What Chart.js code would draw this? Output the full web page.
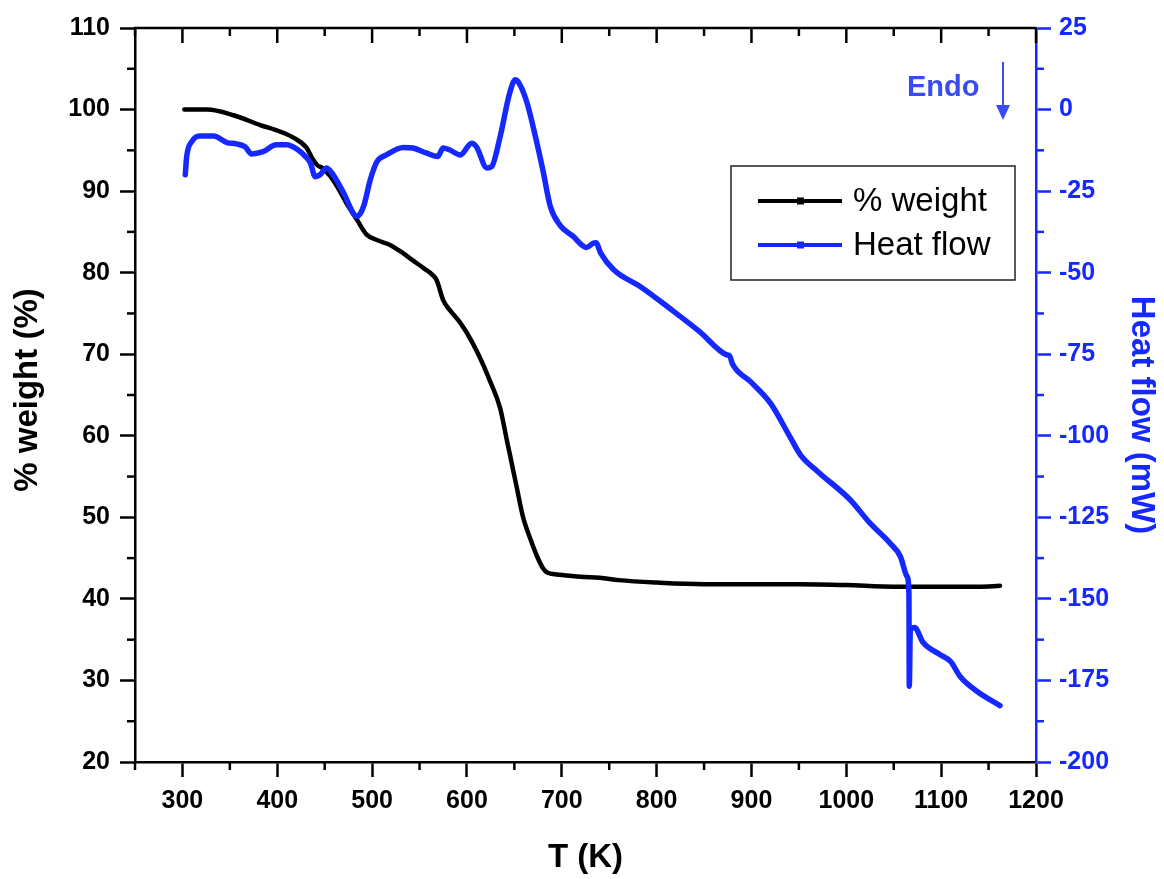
<!DOCTYPE html>
<html><head><meta charset="utf-8">
<script src="https://cdn.jsdelivr.net/npm/chart.js@4/dist/chart.umd.min.js"></script>
<style>html,body{margin:0;padding:0;background:#fff;}#wrap{width:1164px;height:879px;}</style>
</head><body><div id="wrap"><canvas id="c" width="1164" height="879"></canvas></div>
<script>
// ---- data ----
const weightT = [302,326,354,382,403,418,431,437,442,448,456,465,473,484,494,505,519,530,543,555,563,568,575,582,592,600,612,624,635,642,646,653,659,667,674,680,685,695,720,740,760,800,850,900,950,1000,1050,1100,1140,1162];
const weightPct = [100.0,100.0,99.3,98.1,97.3,96.5,95.3,94.0,93.2,92.8,91.8,90.2,88.5,86.5,84.7,84.0,83.4,82.6,81.5,80.5,79.8,79.1,76.6,75.4,74.0,72.6,70.0,66.8,63.4,59.5,57.3,53.4,50.1,47.3,45.2,43.8,43.2,43.0,42.7,42.6,42.3,42.0,41.8,41.8,41.8,41.7,41.5,41.5,41.5,41.6];
const heatT = [303,304.5,310,318,333,347,357,366,373,385,399,410,422,430,435,440,445,452,459,470,480,484,491,498,505,515,533,543,557,569,575,582,593,605,610,621,626,635,645,651,654,663,673,680,688,698,712,726,733,736,741,755,783,814,845,874,877,880,899,920,940,952,970,1004,1025,1046,1057,1064,1066,1066.4,1067.5,1072,1081,1099,1110,1120,1138,1162];
const heatMW = [-20,-14.4,-9.8,-8.1,-8.1,-10.1,-10.5,-11.4,-13.6,-12.9,-10.8,-10.8,-12.4,-14.5,-16.4,-20.6,-20,-17.9,-20,-25.6,-31.7,-32.8,-29.7,-21.6,-16,-13.9,-11.6,-11.8,-13.3,-14.4,-11.8,-12.4,-13.9,-10.3,-11.4,-17.9,-17.5,-8.3,5.0,9.1,8.5,2.4,-9.3,-18.5,-29.8,-35.4,-38.9,-42.3,-41.0,-40.8,-44.0,-49.2,-54.3,-61,-68,-75.2,-75.5,-78,-83.4,-90,-100,-106,-111,-119.6,-126.8,-132.9,-137,-143.1,-148.1,-176.8,-159.4,-158.8,-163.4,-167.1,-169.2,-173.8,-178.4,-182.7];
const xTickLabels = [300,400,500,600,700,800,900,1000,1100,1200];
const xMinorTicks = [250,350,450,550,650,750,850,950,1050,1150];
const yTickLabels = [20,30,40,50,60,70,80,90,100,110];
const yMinorTicks = [25,35,45,55,65,75,85,95,105];
const y2TickLabels = [-200,-175,-150,-125,-100,-75,-50,-25,0,25];
const y2MinorTicks = [-187.5,-162.5,-137.5,-112.5,-87.5,-62.5,-37.5,-12.5,12.5];
const seriesNames = ['% weight','Heat flow'];
const axisTitles = {x:'T (K)', y:'% weight (%)', y2:'Heat flow (mW)'};
const noteText = 'Endo';

const BLUE = '#1428ff';
const FONT = '"Liberation Sans", Arial, Helvetica, sans-serif';
Chart.defaults.font.family = FONT;

const deco = {
  id: 'deco',
  afterDraw(chart) {
    const {ctx, chartArea: a, scales: {x, y, y2}} = chart;
    const seg = (x1, y1, x2, y2_) => { ctx.beginPath(); ctx.moveTo(x1, y1); ctx.lineTo(x2, y2_); ctx.stroke(); };
    ctx.save();
    ctx.lineCap = 'butt';
    ctx.strokeStyle = '#000';
    ctx.lineWidth = 2.5;
    seg(a.left - 1, a.top, a.right, a.top);
    xTickLabels.forEach(v => { const p = x.getPixelForValue(v); seg(p, a.top, p, a.top + 15); });
    xMinorTicks.forEach(v => { const p = x.getPixelForValue(v); seg(p, a.top, p, a.top + 8); seg(p, a.bottom, p, a.bottom + 8); });
    yMinorTicks.forEach(v => { const p = y.getPixelForValue(v); seg(a.left - 8, p, a.left, p); });
    ctx.strokeStyle = BLUE;
    y2MinorTicks.forEach(v => { const p = y2.getPixelForValue(v); seg(a.right, p, a.right + 8, p); });

    // axis titles
    ctx.textAlign = 'center'; ctx.textBaseline = 'middle';
    ctx.font = 'bold 33px ' + FONT;
    ctx.fillStyle = '#000';
    ctx.fillText(axisTitles.x, (a.left + a.right) / 2, 858);
    ctx.save(); ctx.translate(28, 390); ctx.rotate(-Math.PI / 2); ctx.fillText(axisTitles.y, 0, 0); ctx.restore();
    ctx.fillStyle = BLUE;
    ctx.save(); ctx.translate(1141, 415); ctx.rotate(Math.PI / 2); ctx.fillText(axisTitles.y2, 0, 0); ctx.restore();

    // Endo note + arrow
    ctx.fillStyle = '#3a4cf0'; ctx.strokeStyle = '#3a4cf0';
    ctx.font = 'bold 29px ' + FONT;
    ctx.textAlign = 'left'; ctx.textBaseline = 'alphabetic';
    ctx.fillText(noteText, 907, 96);
    ctx.lineWidth = 2;
    seg(1003, 62, 1003, 108);
    ctx.beginPath(); ctx.moveTo(996, 105); ctx.lineTo(1010, 105); ctx.lineTo(1003, 120); ctx.closePath(); ctx.fill();

    // legend
    ctx.strokeStyle = '#222'; ctx.lineWidth = 1.5;
    ctx.strokeRect(731, 166, 284, 114);
    const rows = [{y: 201, c: '#000', t: seriesNames[0]}, {y: 245, c: BLUE, t: seriesNames[1]}];
    ctx.font = '33px ' + FONT; ctx.textBaseline = 'middle';
    rows.forEach(r => {
      ctx.strokeStyle = r.c; ctx.fillStyle = r.c; ctx.lineWidth = 4;
      seg(758, r.y, 842, r.y);
      ctx.fillRect(797, r.y - 3.5, 7, 7);
      ctx.fillStyle = '#000';
      ctx.fillText(r.t, 853, r.y + 1);
    });
    ctx.restore();
  }
};

const fmt = v => String(v);

new Chart(document.getElementById('c'), {
  type: 'line',
  data: {
    datasets: [
      {label: seriesNames[0], data: weightT.map((t, i) => ({x: t, y: weightPct[i]})), borderColor: '#000', borderWidth: 4.5, pointRadius: 0, yAxisID: 'y', cubicInterpolationMode: 'monotone', order: 1, borderJoinStyle: 'round', borderCapStyle: 'round'},
      {label: seriesNames[1], data: heatT.map((t, i) => ({x: t, y: heatMW[i]})), borderColor: BLUE, borderWidth: 5.5, pointRadius: 0, yAxisID: 'y2', cubicInterpolationMode: 'monotone', order: 0, borderJoinStyle: 'round', borderCapStyle: 'round'}
    ]
  },
  options: {
    responsive: false, animation: false, devicePixelRatio: 1,
    layout: {padding: {top: 28, left: 0, right: 0, bottom: 0}},
    plugins: {legend: {display: false}, tooltip: {enabled: false}},
    scales: {
      x: {
        type: 'linear', position: 'bottom', min: 250, max: 1200,
        afterBuildTicks: s => { s.ticks = xTickLabels.map(v => ({value: v})); },
        afterFit: s => { s.height = 117; },
        ticks: {color: '#000', font: {size: 25, weight: 'bold'}, padding: 9, maxRotation: 0, autoSkip: false, callback: fmt},
        grid: {drawOnChartArea: false, drawTicks: true, tickLength: 15, tickWidth: 2.5, tickColor: '#000'},
        border: {color: '#000', width: 2.5}
      },
      y: {
        type: 'linear', position: 'left', min: 20, max: 110,
        afterBuildTicks: s => { s.ticks = yTickLabels.map(v => ({value: v})); },
        afterFit: s => { s.width = 135; },
        ticks: {color: '#000', font: {size: 25, weight: 'bold'}, padding: 10, autoSkip: false, callback: fmt},
        grid: {drawOnChartArea: false, drawTicks: true, tickLength: 15, tickWidth: 2.5, tickColor: '#000'},
        border: {color: '#000', width: 2.5}
      },
      y2: {
        type: 'linear', position: 'right', min: -200, max: 25,
        afterBuildTicks: s => { s.ticks = y2TickLabels.map(v => ({value: v})); },
        afterFit: s => { s.width = 128; },
        ticks: {color: BLUE, font: {size: 25, weight: 'bold'}, padding: 8, autoSkip: false, callback: fmt},
        grid: {drawOnChartArea: false, drawTicks: true, tickLength: 15, tickWidth: 2.5, tickColor: BLUE},
        border: {color: BLUE, width: 2.5}
      }
    }
  },
  plugins: [deco]
});
</script></body></html>
